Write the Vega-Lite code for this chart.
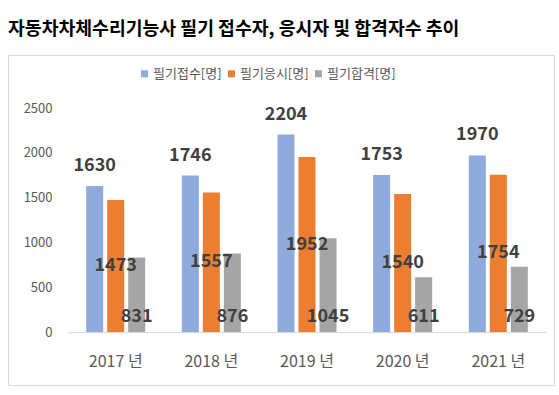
{
  "$schema": "https://vega.github.io/schema/vega-lite/v6.json",
  "width": 546,
  "height": 330,
  "autosize": {"type": "none"},
  "padding": {"left": 8, "top": 55, "right": 5, "bottom": 10},
  "background": "white",
  "config": {
    "font": "Noto Sans CJK KR",
    "view": {"stroke": "#D9D9D9", "strokeWidth": 1, "fill": "white"}
  },
  "title": {
    "text": "자동차차체수리기능사 필기 접수자, 응시자 및 합격자수 추이",
    "anchor": "start",
    "frame": "group",
    "fontSize": 18.3,
    "fontWeight": "bold",
    "color": "#000000",
    "font": "Noto Sans CJK KR",
    "offset": 16
  },
  "data": {
    "values": [
      {"year": "2017 년", "type": "필기접수[명]", "value": 1630},
      {"year": "2017 년", "type": "필기응시[명]", "value": 1473},
      {"year": "2017 년", "type": "필기합격[명]", "value": 831},
      {"year": "2018 년", "type": "필기접수[명]", "value": 1746},
      {"year": "2018 년", "type": "필기응시[명]", "value": 1557},
      {"year": "2018 년", "type": "필기합격[명]", "value": 876},
      {"year": "2019 년", "type": "필기접수[명]", "value": 2204},
      {"year": "2019 년", "type": "필기응시[명]", "value": 1952},
      {"year": "2019 년", "type": "필기합격[명]", "value": 1045},
      {"year": "2020 년", "type": "필기접수[명]", "value": 1753},
      {"year": "2020 년", "type": "필기응시[명]", "value": 1540},
      {"year": "2020 년", "type": "필기합격[명]", "value": 611},
      {"year": "2021 년", "type": "필기접수[명]", "value": 1970},
      {"year": "2021 년", "type": "필기응시[명]", "value": 1754},
      {"year": "2021 년", "type": "필기합격[명]", "value": 729}
    ]
  },
  "encoding": {
    "x": {
      "field": "year",
      "type": "nominal",
      "sort": null,
      "scale": {"range": [60, 538], "paddingInner": 0.383, "paddingOuter": 0.19},
      "axis": {
        "title": null,
        "orient": "bottom",
        "offset": -53,
        "labelAngle": 0,
        "domainColor": "#D9D9D9",
        "domainWidth": 1,
        "ticks": false,
        "tickSize": 0,
        "grid": false,
        "labelPadding": 21,
        "labelFontSize": 16,
        "labelColor": "#595959"
      }
    },
    "xOffset": {
      "field": "type",
      "type": "nominal",
      "scale": {"domain": ["필기접수[명]", "필기응시[명]", "필기합격[명]"], "paddingInner": 0.19, "paddingOuter": 0}
    }
  },
  "layer": [
    {
      "mark": {"type": "bar"},
      "encoding": {
        "y": {
          "field": "value",
          "type": "quantitative",
          "scale": {"domain": [0, 2500], "range": [277, 53], "nice": false},
          "axis": {
            "title": null,
            "values": [0, 500, 1000, 1500, 2000, 2500],
            "format": "d",
            "domain": false,
            "ticks": false,
            "tickSize": 0,
            "grid": false,
            "offset": -48,
            "labelPadding": 4,
            "labelFontSize": 13,
            "labelColor": "#595959"
          }
        },
        "color": {
          "field": "type",
          "type": "nominal",
          "scale": {
            "domain": ["필기접수[명]", "필기응시[명]", "필기합격[명]"],
            "range": ["#8FAADC", "#ED7D31", "#A5A5A5"]
          },
          "legend": {
            "orient": "none",
            "legendX": 130,
            "legendY": 12,
            "direction": "horizontal",
            "title": null,
            "symbolType": "square",
            "symbolSize": 49,
            "symbolStrokeWidth": 0,
            "labelFontSize": 13,
            "labelColor": "#595959",
            "labelOffset": 2,
            "columnPadding": 3
          }
        }
      }
    },
    {
      "transform": [{"filter": {"field": "type", "equal": "필기접수[명]"}}],
      "mark": {"type": "text", "fontSize": 18, "fontWeight": "bold", "color": "#404040", "baseline": "alphabetic", "dy": -15},
      "encoding": {
        "y": {
          "field": "value",
          "type": "quantitative",
          "scale": {"domain": [0, 2500], "range": [277, 53], "nice": false},
          "axis": null
        },
        "text": {"field": "value", "type": "quantitative"}
      }
    },
    {
      "transform": [{"filter": {"field": "type", "equal": "필기응시[명]"}}],
      "mark": {"type": "text", "fontSize": 18, "fontWeight": "bold", "color": "#404040", "baseline": "middle"},
      "encoding": {
        "y": {
          "field": "value",
          "type": "quantitative",
          "scale": {"domain": [0, 5000], "range": [277, 53], "nice": false},
          "axis": null
        },
        "text": {"field": "value", "type": "quantitative"}
      }
    },
    {
      "transform": [{"filter": {"field": "type", "equal": "필기합격[명]"}}],
      "mark": {"type": "text", "fontSize": 18, "fontWeight": "bold", "color": "#404040", "baseline": "alphabetic", "dy": -10},
      "encoding": {
        "y": {
          "datum": 0,
          "type": "quantitative",
          "scale": {"domain": [0, 2500], "range": [277, 53], "nice": false},
          "axis": null
        },
        "text": {"field": "value", "type": "quantitative"}
      }
    }
  ],
  "resolve": {"scale": {"y": "independent"}}
}
